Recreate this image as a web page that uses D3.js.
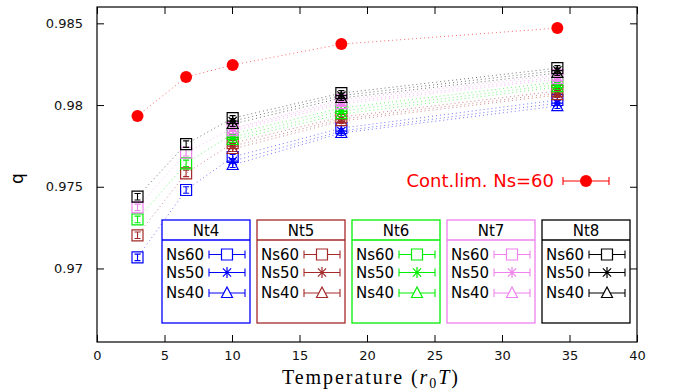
<!DOCTYPE html>
<meta charset="utf-8">
<style>
  body { margin: 0; background: #fff; }
  text { font-family: "DejaVu Sans", sans-serif; }
</style>
<svg width="673" height="391"></svg>
<script src="https://d3js.org/d3.v7.min.js"></script>
<script>

// temperatures (r0 T)
var temps = [3.0, 6.6, 10.05, 18.1, 34.1];
var tempsHigh = [10.05, 18.1, 34.1];

// continuum limit, Ns=60
var contLim = [0.97933, 0.98171, 0.98245, 0.98373, 0.98471];
var contErr = [0.00005, 0.00005, 0.00006, 0.00025, 0.00006];

// q per Nt: Ns60 (all temps), Ns50 and Ns40 (high temps only)
var nt4 = [[0.97068, 0.97480, 0.97682, 0.97859, 0.98031], [0.97657, 0.97841, 0.98012], [0.97633, 0.97829, 0.97994]];
var nt5 = [[0.97203, 0.97582, 0.97767, 0.97927, 0.98086], [0.97749, 0.97914, 0.98073], [0.97731, 0.97902, 0.98061]];
var nt6 = [[0.97300, 0.97643, 0.97823, 0.97982, 0.98141], [0.97804, 0.97963, 0.98125], [0.97786, 0.97945, 0.98110]];
var nt7 = [[0.97374, 0.97708, 0.97859, 0.98031, 0.98184], [0.97853, 0.98018, 0.98171], [0.97841, 0.98006, 0.98159]];
var nt8 = [[0.97439, 0.97761, 0.97920, 0.98073, 0.98226], [0.97902, 0.98058, 0.98211], [0.97884, 0.98043, 0.98196]];
var errNs60 = [0.0002, 0.0002, 0.00015, 0.00015, 0.00015];
var errHigh = [0.00015, 0.00015, 0.00015];

var ntNames = ["Nt4", "Nt5", "Nt6", "Nt7", "Nt8"];
var nsNames = ["Ns60", "Ns50", "Ns40"];
var ntColors = ["#0000ff", "#a52a2a", "#00ee00", "#ee82ee", "#000000"];
var xTicks = [0, 5, 10, 15, 20, 25, 30, 35, 40];
var yTicks = [0.97, 0.975, 0.98, 0.985];

var ntData = [nt4, nt5, nt6, nt7, nt8];

var margin = {top: 7, right: 36, bottom: 49, left: 97},
    width = 673 - margin.left - margin.right,
    height = 391 - margin.top - margin.bottom;

var svg = d3.select("svg");
var g = svg.append("g").attr("transform", "translate(" + margin.left + "," + margin.top + ")");

var x = d3.scaleLinear().domain([0, 40]).range([0, width]);
var y = d3.scaleLinear().domain([0.9655, 0.986]).range([height, 0]);

// axes, ticks pointing inward and mirrored
var fmtY = function(d) { return String(+d.toFixed(3)); };
g.append("g").attr("transform", "translate(0," + height + ")")
    .call(d3.axisBottom(x).tickValues(xTicks).tickSize(-7).tickSizeOuter(0).tickPadding(9));
g.append("g")
    .call(d3.axisTop(x).tickValues(xTicks).tickSize(-7).tickSizeOuter(0).tickFormat(""));
g.append("g")
    .call(d3.axisLeft(y).tickValues(yTicks).tickSize(-7).tickSizeOuter(0).tickPadding(14).tickFormat(fmtY));
g.append("g").attr("transform", "translate(" + width + ",0)")
    .call(d3.axisRight(y).tickValues(yTicks).tickSize(-7).tickSizeOuter(0).tickFormat(""));
g.selectAll(".domain").remove();
g.selectAll(".tick text").attr("font-size", 13).attr("font-family", "DejaVu Sans").attr("fill", "#111");
g.selectAll(".tick line").attr("stroke", "#000");

g.append("rect").attr("width", width).attr("height", height)
    .attr("fill", "none").attr("stroke", "#000").attr("stroke-width", 1.2);

// axis labels
svg.append("text")
    .attr("transform", "translate(23," + (margin.top + y(0.9755)) + ") rotate(-90)")
    .attr("text-anchor", "middle").attr("font-size", 17).text("q");

var xl = svg.append("text")
    .attr("x", 370).attr("y", 384)
    .attr("text-anchor", "middle").attr("font-size", 20)
    .attr("textLength", 176).attr("lengthAdjust", "spacing")
    .style("font-family", "'Liberation Serif', serif");
xl.append("tspan").text("Temperature (");
xl.append("tspan").attr("font-style", "italic").text("r");
xl.append("tspan").attr("font-size", 14).attr("dy", 4).text("0");
xl.append("tspan").attr("font-style", "italic").attr("dy", -4).text("T");
xl.append("tspan").text(")");

// marker shapes
var S = 5.5;
function markerPath(k) {
  if (k === 0) return "M" + -S + "," + -S + "H" + S + "V" + S + "H" + -S + "Z";
  if (k === 1) return "M" + -S + ",0H" + S + "M0," + -S + "V" + S +
      "M" + -S * 0.75 + "," + -S * 0.75 + "L" + S * 0.75 + "," + S * 0.75 +
      "M" + -S * 0.75 + "," + S * 0.75 + "L" + S * 0.75 + "," + -S * 0.75;
  return "M0," + (-S - 0.5) + "L" + S + "," + (S - 1) + "H" + -S + "Z";
}

var line = d3.line().x(function(d) { return x(d[0]); }).y(function(d) { return y(d[1]); });

// dotted connecting lines
ntData.forEach(function(nt, i) {
  nt.forEach(function(vals, k) {
    var ts = k === 0 ? temps : tempsHigh;
    g.append("path")
        .datum(vals.map(function(v, j) { return [ts[j], v]; }))
        .attr("d", line).attr("fill", "none")
        .attr("stroke", ntColors[i]).attr("stroke-opacity", 0.55)
        .attr("stroke-width", 1).attr("stroke-dasharray", "1,3");
  });
});
g.append("path")
    .datum(contLim.map(function(v, j) { return [temps[j], v]; }))
    .attr("d", line).attr("fill", "none")
    .attr("stroke", "#ff0000").attr("stroke-opacity", 0.6)
    .attr("stroke-width", 1).attr("stroke-dasharray", "1,3");

// points with error bars
function errBar(sel, cx, lo, hi, color, cap) {
  sel.append("path")
      .attr("d", "M" + cx + "," + lo + "V" + hi +
          "M" + (cx - cap) + "," + lo + "H" + (cx + cap) +
          "M" + (cx - cap) + "," + hi + "H" + (cx + cap))
      .attr("stroke", color).attr("fill", "none").attr("stroke-width", 1.1);
}

ntData.forEach(function(nt, i) {
  nt.forEach(function(vals, k) {
    var ts = k === 0 ? temps : tempsHigh;
    var es = k === 0 ? errNs60 : errHigh;
    var grp = g.append("g");
    vals.forEach(function(v, j) {
      errBar(grp, x(ts[j]), y(v - es[j]), y(v + es[j]), ntColors[i], 3);
      grp.append("path").attr("d", markerPath(k))
          .attr("transform", "translate(" + x(ts[j]) + "," + y(v) + ")")
          .attr("fill", "none").attr("stroke", ntColors[i]).attr("stroke-width", 1.2);
    });
  });
});

contLim.forEach(function(v, j) {
  errBar(g, x(temps[j]), y(v - contErr[j]), y(v + contErr[j]), "#ff0000", 3);
  g.append("circle").attr("cx", x(temps[j])).attr("cy", y(v)).attr("r", 6).attr("fill", "#ff0000");
});

// continuum legend
var rl = svg.append("g");
rl.append("text").attr("x", 554).attr("y", 181).attr("dy", "0.35em")
    .attr("text-anchor", "end").attr("font-size", 18).attr("fill", "#ff0000").text("Cont.lim. Ns=60");
errBarH(rl, 563, 609, 181, "#ff0000");
rl.append("circle").attr("cx", 586).attr("cy", 181).attr("r", 6).attr("fill", "#ff0000");

function errBarH(sel, x0, x1, cy, color) {
  sel.append("path")
      .attr("d", "M" + x0 + "," + cy + "H" + x1 +
          "M" + x0 + "," + (cy - 4) + "V" + (cy + 4) +
          "M" + x1 + "," + (cy - 4) + "V" + (cy + 4))
      .attr("stroke", color).attr("fill", "none").attr("stroke-width", 1.1);
}

// Nt legend boxes
var boxX = [162, 257, 352, 447, 542];
var rowY = [254.5, 272.5, 293];
ntNames.forEach(function(name, i) {
  var bx = boxX[i], c = ntColors[i];
  var lg = svg.append("g").attr("transform", "translate(" + bx + ",220)");
  lg.append("rect").attr("width", 88).attr("height", 103)
      .attr("fill", "#fff").attr("stroke", c).attr("stroke-width", 1.3);
  lg.append("line").attr("x1", 0).attr("x2", 88).attr("y1", 20).attr("y2", 20)
      .attr("stroke", c).attr("stroke-width", 1.3);
  lg.append("text").attr("x", 44).attr("y", 11).attr("dy", "0.35em")
      .attr("text-anchor", "middle").attr("font-size", 15).text(name);
  nsNames.forEach(function(ns, k) {
    var ry = rowY[k] - 220;
    lg.append("text").attr("x", 4).attr("y", ry).attr("dy", "0.35em")
        .attr("font-size", 15).text(ns);
    errBarH(lg, 47, 83, ry, c);
    lg.append("path").attr("d", markerPath(k))
        .attr("transform", "translate(65," + ry + ")")
        .attr("fill", "#fff").attr("stroke", c).attr("stroke-width", 1.2);
  });
});

</script>
